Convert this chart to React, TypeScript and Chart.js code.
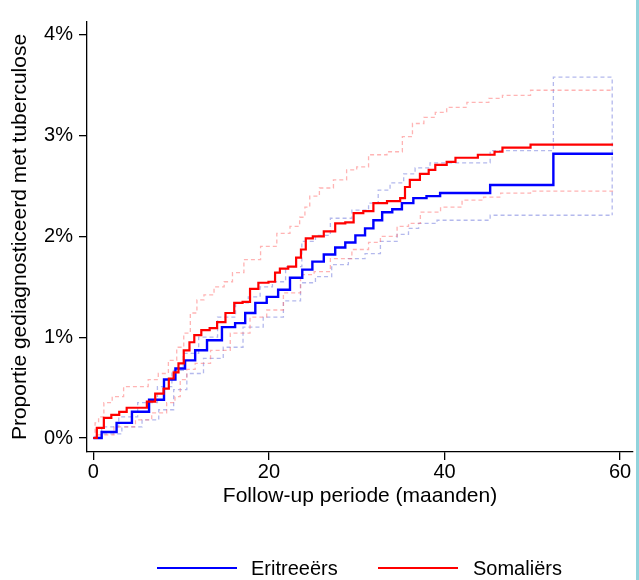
import React, { useEffect, useRef } from "react";
import { Chart, registerables } from "chart.js";

Chart.register(...registerables);

const FONT = '"Liberation Sans", Arial, Helvetica, sans-serif';

const seriesLabels = ["Eritreeërs", "Somaliërs"];
const xTickValues = [0, 20, 40, 60];
const yTickValues = [0, 1, 2, 3, 4];
const xTitle = "Follow-up periode (maanden)";
const yTitle = "Proportie gediagnosticeerd met tuberculose";

// [months, cumulative proportion in %]
const eritreeersKM: number[][] = [
  [0, 0], [1.9, 0.06], [3.4, 0.15], [5.4, 0.26], [7.3, 0.38], [8.8, 0.58], [9.9, 0.69],
  [11, 0.77], [12.2, 0.87], [13.7, 0.97], [15.6, 1.1], [16.7, 1.14], [17.9, 1.24],
  [19.0, 1.34], [20.5, 1.4], [21.6, 1.47], [23.2, 1.59], [24.4, 1.67], [25.5, 1.75],
  [27.0, 1.82], [28.1, 1.89], [29.3, 1.94], [30.4, 2.01], [31.5, 2.08], [32.3, 2.16],
  [33.5, 2.24], [34.6, 2.27], [35.7, 2.33], [37.2, 2.38], [38.7, 2.4], [40.3, 2.43],
  [45.2, 2.43], [45.2, 2.51], [52.4, 2.51], [52.4, 2.82], [59.2, 2.82],
];

const somaliersKM: number[][] = [
  [0, 0], [0.8, 0.1], [1.6, 0.2], [2.5, 0.23], [3.4, 0.26], [4.2, 0.3], [5.7, 0.3],
  [6.5, 0.36], [7.6, 0.44], [8.4, 0.49], [8.8, 0.59], [9.5, 0.65], [9.9, 0.74],
  [10.7, 0.87], [11.2, 0.95], [11.8, 1.02], [12.8, 1.07], [13.7, 1.09], [14.5, 1.15],
  [15.6, 1.24], [16.5, 1.34], [17.5, 1.35], [18.2, 1.48], [19.4, 1.54], [20.5, 1.55],
  [20.9, 1.64], [21.6, 1.68], [22.8, 1.7], [23.4, 1.79], [23.9, 1.87], [24.5, 1.98],
  [25.5, 2.0], [27.0, 2.05], [28.1, 2.13], [29.3, 2.14], [30.0, 2.23], [31.5, 2.25],
  [32.3, 2.33], [34.6, 2.35], [35.3, 2.38], [35.7, 2.49], [36.4, 2.56], [38.0, 2.62],
  [38.4, 2.66], [39.5, 2.71], [41, 2.74], [41.5, 2.78], [43.7, 2.78], [43.9, 2.81],
  [45.6, 2.81], [45.8, 2.84], [46.5, 2.84], [46.7, 2.88], [49.8, 2.88], [49.8, 2.91],
  [59.2, 2.91],
];

const eritreeersUpper: number[][] = [
  [0, 0], [1.9, 0.11], [3.9, 0.21], [6.2, 0.35], [8.4, 0.51], [9.5, 0.67], [11, 0.84],
  [13, 1.0], [15.3, 1.2], [17.1, 1.34], [18.2, 1.4], [19.8, 1.5], [21, 1.55], [22.8, 1.7],
  [24.7, 1.95], [25.9, 2.01], [28.1, 2.18], [30.8, 2.26], [31.9, 2.33], [33.0, 2.46],
  [34.6, 2.53], [36.1, 2.62], [37.2, 2.68], [39.5, 2.73], [45.2, 2.73], [45.2, 2.85],
  [52.4, 2.85], [52.4, 3.58], [59.1, 3.58], [59.1, 2.21],
];

const eritreeersLower: number[][] = [
  [0, 0], [1.9, 0.04], [4.6, 0.11], [6.5, 0.18], [8.4, 0.28], [9.9, 0.48], [11.4, 0.64],
  [13.7, 0.79], [15.9, 0.9], [18.2, 1.1], [20.5, 1.2], [22.8, 1.36], [24.4, 1.54],
  [26.2, 1.6], [28.1, 1.72], [30.0, 1.78], [31.9, 1.83], [33.5, 1.95], [35.7, 2.02],
  [36.1, 2.08], [38, 2.13], [40.3, 2.16], [45.2, 2.16], [45.2, 2.21], [59.1, 2.21],
];

const somaliersUpper: number[][] = [
  [0, 0], [0.4, 0.15], [0.8, 0.21], [1.6, 0.35], [2.7, 0.41], [4.2, 0.51], [5.7, 0.51],
  [6.8, 0.58], [8, 0.64], [9.1, 0.77], [9.9, 0.9], [10.7, 1.04], [11.4, 1.24], [12.2, 1.37],
  [13, 1.42], [14.5, 1.5], [15.3, 1.55], [16.4, 1.64], [17.9, 1.77], [20.2, 1.9],
  [21.6, 2.03], [23.2, 2.1], [23.8, 2.19], [24.4, 2.29], [24.9, 2.4], [26.6, 2.48],
  [28.1, 2.56], [29.6, 2.66], [30.4, 2.69], [32.3, 2.81], [34.6, 2.84], [35.8, 2.99],
  [36.9, 3.12], [38.4, 3.18], [39.5, 3.23], [41, 3.28], [44.1, 3.33], [46, 3.37],
  [47.2, 3.4], [49.8, 3.4], [49.8, 3.45], [59.2, 3.45],
];

const somaliersLower: number[][] = [
  [0, 0], [0.8, 0.03], [3.9, 0.11], [5.7, 0.18], [7.6, 0.25], [9.1, 0.35], [9.5, 0.41],
  [10.3, 0.58], [11, 0.68], [12.2, 0.74], [14.5, 0.87], [16.7, 1.04], [19, 1.2],
  [20.5, 1.27], [22.8, 1.44], [24.4, 1.62], [25.9, 1.65], [28.1, 1.78], [30.8, 1.87],
  [31.9, 1.94], [33.5, 2.0], [35.7, 2.1], [36.1, 2.13], [38.4, 2.24], [40.7, 2.29],
  [43.3, 2.36], [45.6, 2.39], [47.2, 2.43], [49.8, 2.43], [49.8, 2.45], [59.2, 2.45],
];

const BLUE = "#0000ff";
const RED = "#ff0000";
const BLUE_CI = "rgba(105,115,220,0.5)";
const RED_CI = "rgba(255,105,105,0.5)";

const toPts = (arr: number[][]) => arr.map(([x, y]) => ({ x, y }));

export default function App() {
  const ref = useRef<HTMLCanvasElement | null>(null);

  useEffect(() => {
    if (!ref.current) return;
    const ciBase = {
      stepped: "middle" as const,
      pointRadius: 0,
      borderWidth: 1.3,
      borderDash: [4, 3],
      fill: false,
    };
    const chart = new Chart(ref.current, {
      type: "line",
      data: {
        datasets: [
          {
            label: seriesLabels[1],
            data: toPts(somaliersKM),
            borderColor: RED,
            backgroundColor: RED,
            borderWidth: 2.2,
            stepped: "middle",
            pointRadius: 0,
            fill: false,
          },
          {
            label: seriesLabels[0],
            data: toPts(eritreeersKM),
            borderColor: BLUE,
            backgroundColor: BLUE,
            borderWidth: 2.4,
            stepped: "middle",
            pointRadius: 0,
            fill: false,
          },
          { ...ciBase, label: "ci-s-up", data: toPts(somaliersUpper), borderColor: RED_CI },
          { ...ciBase, label: "ci-s-lo", data: toPts(somaliersLower), borderColor: RED_CI },
          { ...ciBase, label: "ci-e-up", data: toPts(eritreeersUpper), borderColor: BLUE_CI },
          { ...ciBase, label: "ci-e-lo", data: toPts(eritreeersLower), borderColor: BLUE_CI },
        ],
      },
      options: {
        responsive: false,
        animation: false,
        devicePixelRatio: 1,
        layout: { padding: { top: 22, right: 6, bottom: 62, left: 0 } },
        plugins: {
          legend: { display: false },
          tooltip: { enabled: false },
        },
        scales: {
          x: {
            type: "linear",
            min: -0.72,
            max: 61.47,
            afterBuildTicks: (s: any) => {
              s.ticks = xTickValues.map((v) => ({ value: v }));
            },
            afterFit: (s: any) => {
              s.height = 66;
            },
            grid: { drawOnChartArea: false, tickLength: 8, color: "#000", lineWidth: 1.3 },
            border: { display: true, color: "#000", width: 1.3 },
            ticks: {
              font: { family: FONT, size: 20 },
              color: "#000",
              padding: 0,
              maxRotation: 0,
              autoSkip: false,
              callback: (v: any) => String(v),
            },
            title: {
              display: true,
              text: xTitle,
              font: { family: FONT, size: 21 },
              color: "#000",
              padding: { top: 0, bottom: 9 },
            },
          },
          y: {
            type: "linear",
            min: -0.139,
            max: 4.127,
            afterBuildTicks: (s: any) => {
              s.ticks = yTickValues.map((v) => ({ value: v }));
            },
            afterFit: (s: any) => {
              s.width = 87;
            },
            grid: { drawOnChartArea: false, tickLength: 8, color: "#000", lineWidth: 1.3 },
            border: { display: true, color: "#000", width: 1.3 },
            ticks: {
              font: { family: FONT, size: 20 },
              color: "#000",
              padding: 6,
              autoSkip: false,
              callback: (v: any) => `${v}%`,
            },
            title: {
              display: true,
              text: yTitle,
              font: { family: FONT, size: 21 },
              color: "#000",
              padding: { top: 8, bottom: 0 },
            },
          },
        },
      },
    });
    return () => chart.destroy();
  }, []);

  const legendText: React.CSSProperties = {
    position: "absolute",
    top: 558,
    fontFamily: FONT,
    fontSize: 20,
    lineHeight: "20px",
    color: "#000",
    whiteSpace: "nowrap",
  };
  const legendLine: React.CSSProperties = {
    position: "absolute",
    top: 567,
    width: 80,
    height: 2,
  };

  return (
    <div
      style={{
        position: "fixed",
        left: 0,
        top: 0,
        width: 639,
        height: 580,
        background: "#fff",
        overflow: "hidden",
      }}
    >
      <canvas ref={ref} width={639} height={580} style={{ display: "block" }} />
      <div style={{ ...legendLine, left: 157, background: BLUE }} />
      <div style={{ ...legendText, left: 251 }}>{seriesLabels[0]}</div>
      <div style={{ ...legendLine, left: 378, background: RED }} />
      <div style={{ ...legendText, left: 473 }}>{seriesLabels[1]}</div>
      <div
        style={{
          position: "absolute",
          left: 636,
          top: 0,
          width: 3,
          height: 580,
          background: "#92d3dc",
        }}
      />
    </div>
  );
}
